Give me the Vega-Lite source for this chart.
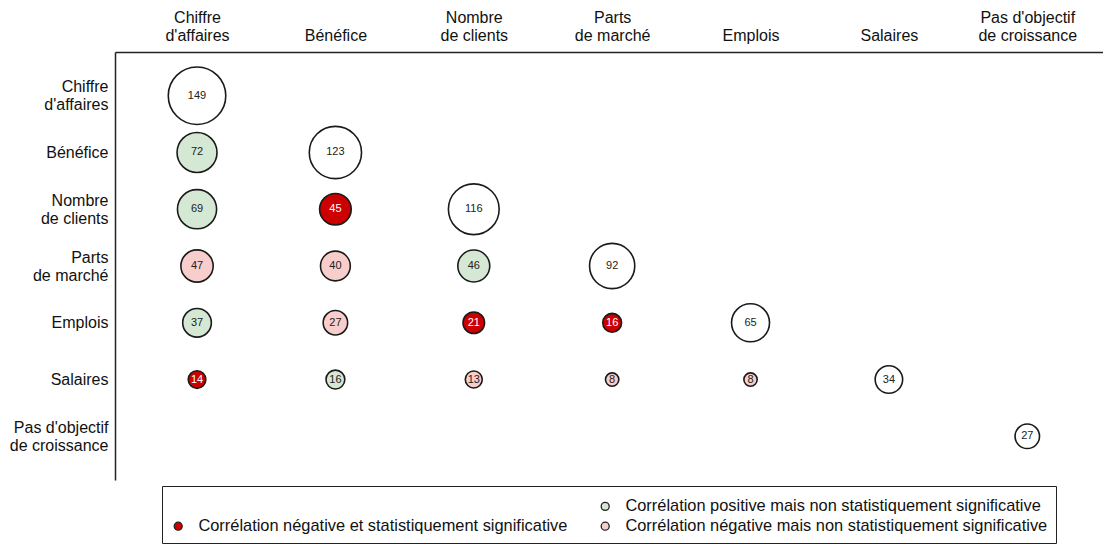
{
  "$schema": "https://vega.github.io/schema/vega-lite/v6.json",
  "autosize": {"type": "none"},
  "width": 988,
  "height": 428,
  "padding": {"left": 115, "top": 52, "right": 0, "bottom": 64},
  "background": "white",
  "config": {
    "view": {"stroke": null},
    "font": "Liberation Sans"
  },
  "data": {
    "values": [
      {"row": "Chiffre|d'affaires", "col": "Chiffre|d'affaires", "value": 149, "cat": "diag"},
      {"row": "Bénéfice", "col": "Chiffre|d'affaires", "value": 72, "cat": "pos"},
      {"row": "Bénéfice", "col": "Bénéfice", "value": 123, "cat": "diag"},
      {"row": "Nombre|de clients", "col": "Chiffre|d'affaires", "value": 69, "cat": "pos"},
      {"row": "Nombre|de clients", "col": "Bénéfice", "value": 45, "cat": "negsig"},
      {"row": "Nombre|de clients", "col": "Nombre|de clients", "value": 116, "cat": "diag"},
      {"row": "Parts|de marché", "col": "Chiffre|d'affaires", "value": 47, "cat": "negns"},
      {"row": "Parts|de marché", "col": "Bénéfice", "value": 40, "cat": "negns"},
      {"row": "Parts|de marché", "col": "Nombre|de clients", "value": 46, "cat": "pos"},
      {"row": "Parts|de marché", "col": "Parts|de marché", "value": 92, "cat": "diag"},
      {"row": "Emplois", "col": "Chiffre|d'affaires", "value": 37, "cat": "pos"},
      {"row": "Emplois", "col": "Bénéfice", "value": 27, "cat": "negns"},
      {"row": "Emplois", "col": "Nombre|de clients", "value": 21, "cat": "negsig"},
      {"row": "Emplois", "col": "Parts|de marché", "value": 16, "cat": "negsig"},
      {"row": "Emplois", "col": "Emplois", "value": 65, "cat": "diag"},
      {"row": "Salaires", "col": "Chiffre|d'affaires", "value": 14, "cat": "negsig"},
      {"row": "Salaires", "col": "Bénéfice", "value": 16, "cat": "pos"},
      {"row": "Salaires", "col": "Nombre|de clients", "value": 13, "cat": "negns"},
      {"row": "Salaires", "col": "Parts|de marché", "value": 8, "cat": "negns"},
      {"row": "Salaires", "col": "Emplois", "value": 8, "cat": "negns"},
      {"row": "Salaires", "col": "Salaires", "value": 34, "cat": "diag"},
      {"row": "Pas d'objectif|de croissance", "col": "Pas d'objectif|de croissance", "value": 27, "cat": "diag"}
    ]
  },
  "encoding": {
    "x": {
      "field": "col", "type": "nominal",
      "sort": ["Chiffre|d'affaires", "Bénéfice", "Nombre|de clients", "Parts|de marché", "Emplois", "Salaires", "Pas d'objectif|de croissance"],
      "scale": {"type": "point", "padding": 0.57, "align": 0.52},
      "axis": {
        "orient": "top", "title": null, "ticks": false, "grid": false,
        "domainColor": "#222", "domainWidth": 1.5,
        "labelAngle": 0, "labelFontSize": 16, "labelColor": "#111",
        "labelLineHeight": 18, "labelBaseline": "bottom",
        "labelPadding": {"condition": {"test": "indexof(datum.value, '|') >= 0", "value": 27}, "value": 9},
        "labelExpr": "split(datum.label, '|')"
      }
    },
    "y": {
      "field": "row", "type": "nominal",
      "sort": ["Chiffre|d'affaires", "Bénéfice", "Nombre|de clients", "Parts|de marché", "Emplois", "Salaires", "Pas d'objectif|de croissance"],
      "scale": {"type": "point", "padding": 0.77},
      "axis": {
        "title": null, "ticks": false, "grid": false,
        "domainColor": "#222", "domainWidth": 1.5,
        "labelFontSize": 16, "labelColor": "#111",
        "labelLineHeight": 18, "labelPadding": 7,
        "labelOffset": {"condition": {"test": "indexof(datum.value, '|') >= 0", "value": -9}, "value": 0},
        "labelExpr": "split(datum.label, '|')"
      }
    }
  },
  "layer": [
    {
      "mark": {"type": "circle", "opacity": 1, "stroke": "#1a1a1a", "strokeWidth": 1.6},
      "encoding": {
        "size": {
          "field": "value", "type": "quantitative",
          "scale": {"type": "linear", "domain": [0, 150], "range": [0, 3330]},
          "legend": null
        },
        "fill": {
          "field": "cat", "type": "nominal",
          "scale": {
            "domain": ["diag", "negsig", "pos", "negns"],
            "range": ["#ffffff", "#cc0000", "#d5e8d4", "#f8cecc"]
          },
          "legend": {
            "orient": "none", "legendX": 47, "legendY": 434,
            "title": " ", "titleFontSize": 1, "titlePadding": 3,
            "columns": 2, "columnPadding": 29, "rowPadding": 3,
            "padding": 8, "strokeColor": "#222", "fillColor": "white",
            "symbolType": "circle", "symbolSize": 64,
            "symbolStrokeColor": "#222", "symbolStrokeWidth": 1.3,
            "symbolOpacity": 1,
            "labelFontSize": 16.4, "labelColor": "#111", "labelOffset": 12,
            "labelLimit": 600,
            "labelExpr": "datum.value === 'pos' ? 'Corrélation positive mais non statistiquement significative' : datum.value === 'negsig' ? 'Corrélation négative et statistiquement significative' : datum.value === 'negns' ? 'Corrélation négative mais non statistiquement significative' : ''",
            "encode": {
              "symbols": {"update": {"opacity": {"signal": "datum.value === 'diag' ? 0 : 1"}}}
            }
          }
        }
      }
    },
    {
      "mark": {"type": "text", "fontSize": 11, "baseline": "middle", "align": "center"},
      "encoding": {
        "text": {"field": "value", "type": "quantitative"},
        "color": {
          "condition": {"test": "datum.cat === 'negsig'", "value": "white"},
          "value": "#222"
        }
      }
    }
  ]
}
